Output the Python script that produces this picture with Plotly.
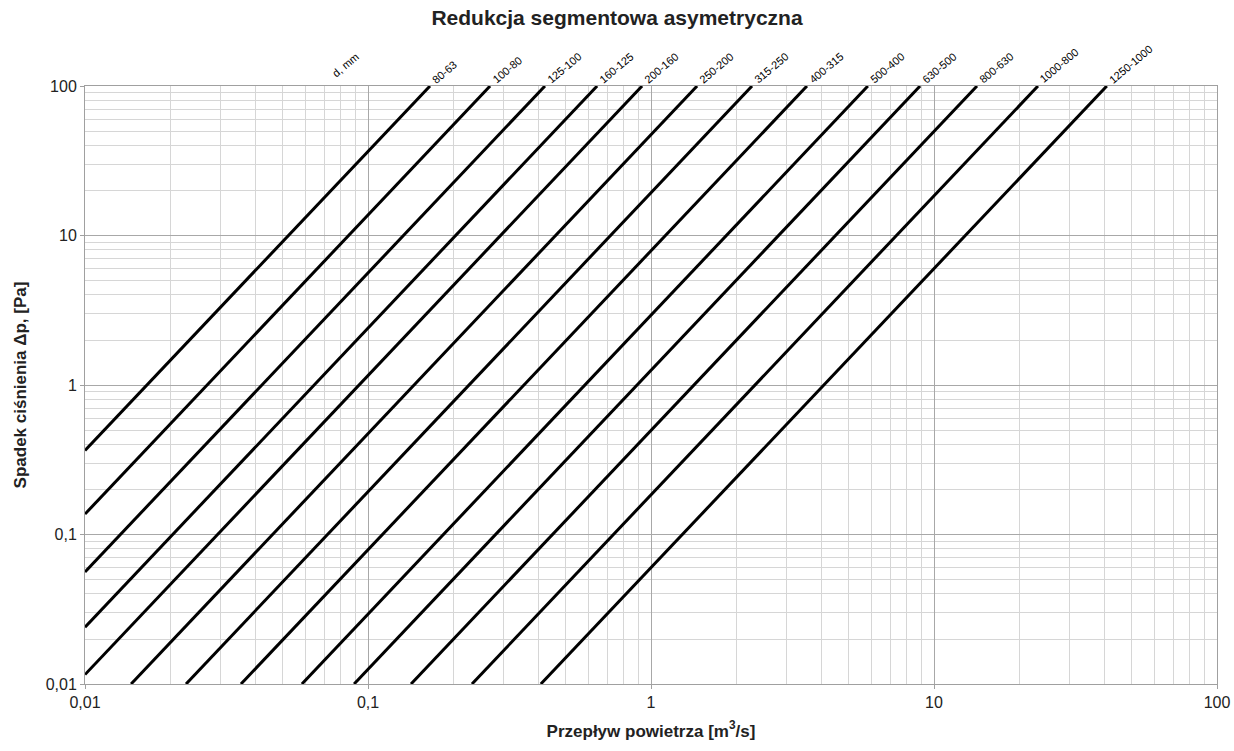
import numpy as np
import plotly.graph_objects as go

# Series labels (diameter reduction, mm)
labels = ["80-63", "100-80", "125-100", "160-125", "200-160", "250-200", "315-250",
          "400-315", "500-400", "630-500", "800-630", "1000-800", "1250-1000"]
# Start points (lower/left end of each line)
q_start = [0.01, 0.01, 0.01, 0.01, 0.01, 0.01455, 0.02275, 0.03557, 0.0584, 0.0893, 0.1419, 0.233, 0.408]
dp_start = [0.365, 0.137, 0.0562, 0.0240, 0.01156, 0.01, 0.01, 0.01, 0.01, 0.01, 0.01, 0.01, 0.01]
# End points (upper end of each line, at 100 Pa)
q_end = [0.1656, 0.270, 0.422, 0.645, 0.930, 1.455, 2.275, 3.557, 5.84, 8.93, 14.19, 23.3, 40.8]
dp_end = [100] * 13

x_tickvals = [0.01, 0.1, 1, 10, 100]
x_ticktext = ["0,01", "0,1", "1", "10", "100"]
y_tickvals = [0.01, 0.1, 1, 10, 100]
y_ticktext = ["0,01", "0,1", "1", "10", "100"]
decades = [0.01, 0.1, 1, 10]
minor_vals = [d * m for d in decades for m in range(2, 10)]

FONT = "Liberation Sans, Arial, sans-serif"

fig = go.Figure()
for i, lab in enumerate(labels):
    fig.add_trace(go.Scatter(
        x=[q_start[i], q_end[i]], y=[dp_start[i], dp_end[i]],
        mode="lines", line=dict(color="black", width=3),
        name=lab, showlegend=False, hoverinfo="name"))
    fig.add_annotation(
        x=np.log10(q_end[i]), y=np.log10(dp_end[i]), xref="x", yref="y",
        text=lab, showarrow=False, textangle=-40,
        xanchor="left", yanchor="bottom", xshift=-3, yshift=-2,
        font=dict(family=FONT, size=11, color="black"))

fig.add_annotation(
    x=np.log10(0.083), y=2, xref="x", yref="y", text="d, mm", showarrow=False,
    textangle=-40, xanchor="center", yanchor="bottom", yshift=4,
    font=dict(family=FONT, size=11, color="black"))

axis_common = dict(
    type="log", showline=True, linecolor="#a0a0a0", linewidth=1, mirror=True,
    showgrid=True, gridcolor="#a8a8a8", gridwidth=1,
    ticks="outside", ticklen=4, tickcolor="#a0a0a0",
    tickfont=dict(family=FONT, size=16, color="#222"),
    minor=dict(tickvals=minor_vals, showgrid=True, gridcolor="#d6d6d6", gridwidth=1, ticks=""),
    zeroline=False, automargin=False,
)

fig.update_xaxes(
    range=[-2, 2], tickvals=x_tickvals, ticktext=x_ticktext,
    title=dict(text="<b>Przepływ powietrza [m<sup>3</sup>/s]</b>",
               font=dict(family=FONT, size=17, color="#222"), standoff=14),
    **axis_common)
fig.update_yaxes(
    range=[-2, 2], tickvals=y_tickvals, ticktext=y_ticktext,
    title=dict(text="<b>Spadek ciśnienia Δp, [Pa]</b>",
               font=dict(family=FONT, size=17, color="#222"), standoff=14),
    **axis_common)

fig.update_layout(
    width=1234, height=751,
    margin=dict(l=85, r=17, t=86, b=67),
    paper_bgcolor="white", plot_bgcolor="white",
    title=dict(text="<b>Redukcja segmentowa asymetryczna</b>", x=0.5, xanchor="center",
               y=1 - 18 / 751, yanchor="middle", font=dict(family=FONT, size=21, color="#222")),
)

fig.write_html("out.html", config={"displayModeBar": False},
               post_script="document.body.style.margin='0';document.body.style.overflow='hidden';")
